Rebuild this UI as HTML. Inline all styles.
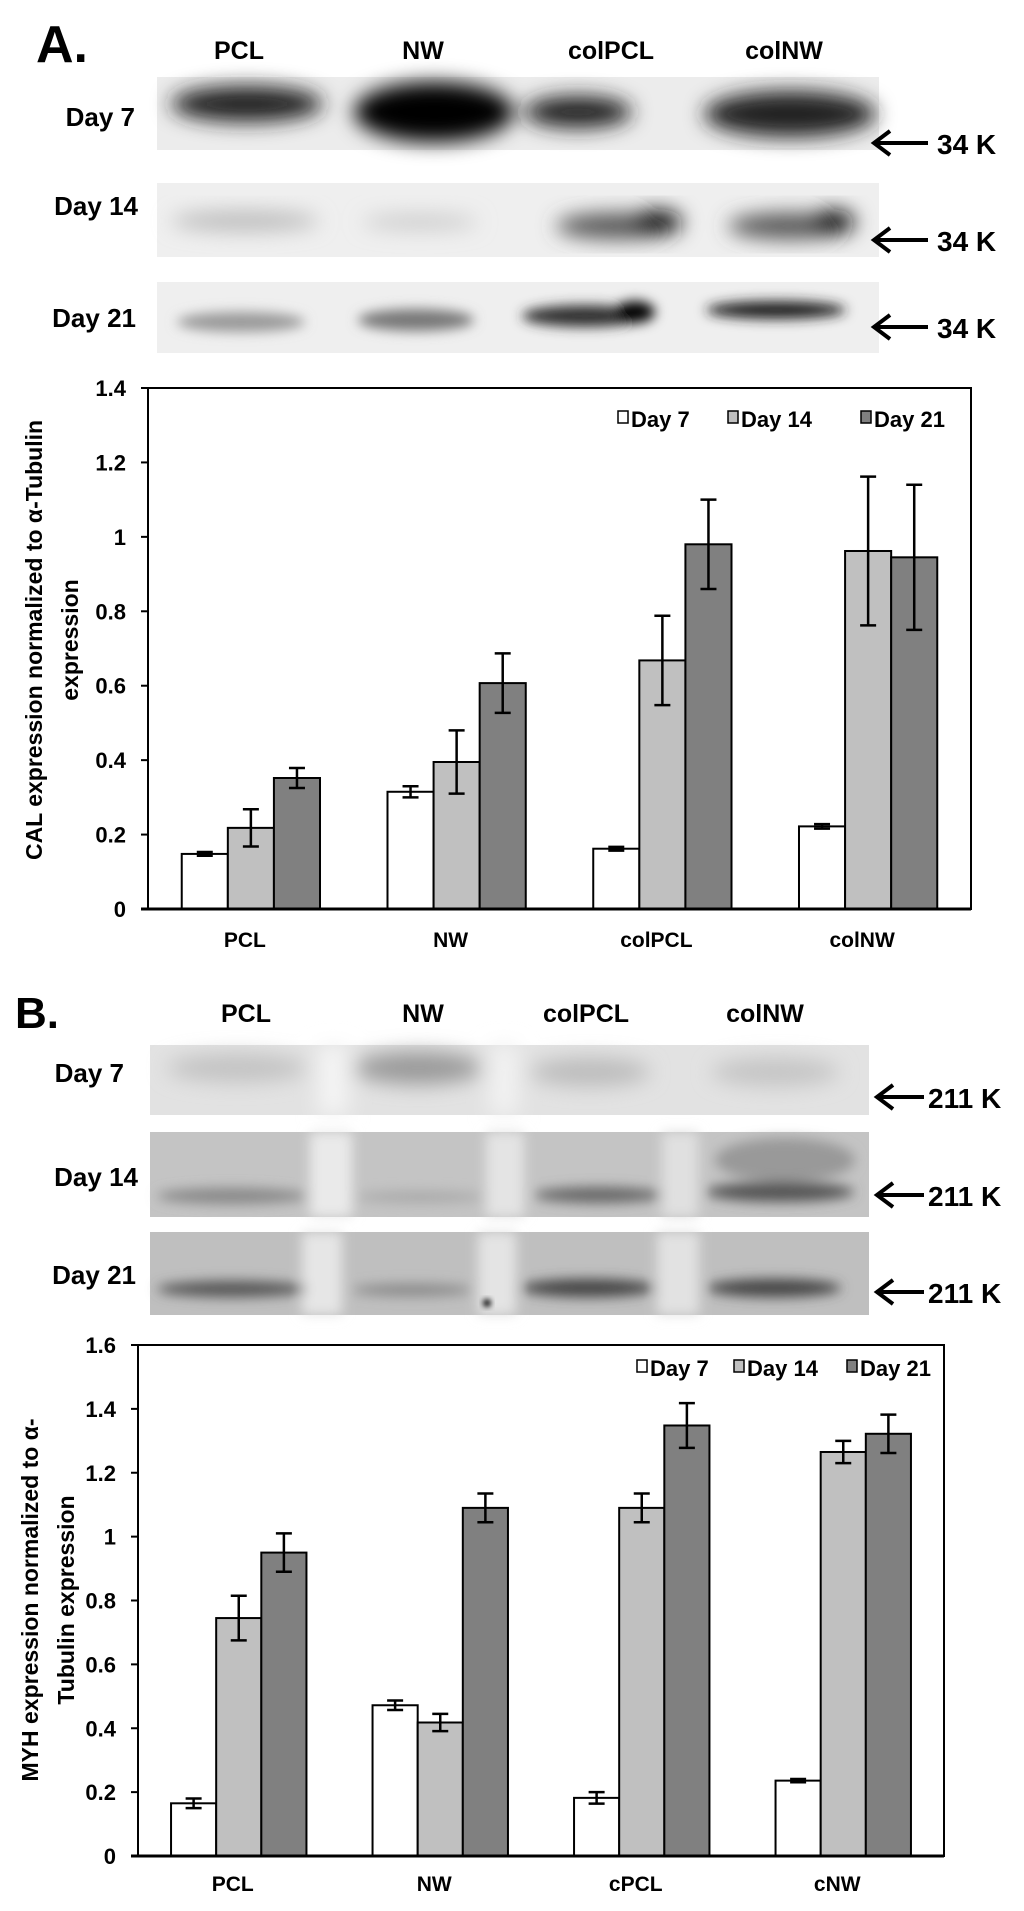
<!DOCTYPE html>
<html><head><meta charset="utf-8">
<style>
html,body{margin:0;padding:0;background:#fff;}
body{width:1024px;height:1911px;position:relative;overflow:hidden;font-family:"Liberation Sans",Arial,sans-serif;font-weight:bold;}
svg{position:absolute;left:0;top:0;}
</style></head>
<body>
<svg id="fig" width="1024" height="1911" viewBox="0 0 1024 1911">
<defs>
<filter id="b6" x="-50%" y="-50%" width="200%" height="200%"><feGaussianBlur stdDeviation="6"/></filter>
<filter id="b10" x="-50%" y="-50%" width="200%" height="200%"><feGaussianBlur stdDeviation="10"/></filter>
<filter id="b3" x="-50%" y="-50%" width="200%" height="200%"><feGaussianBlur stdDeviation="3"/></filter>
</defs>
<g font-family="Liberation Sans, Arial, sans-serif" font-weight="bold" fill="#000">
<!-- Panel A blots -->
<text x="36" y="62" font-size="52">A.</text>
<g font-size="25" text-anchor="middle">
<text x="239" y="59">PCL</text><text x="423" y="59">NW</text><text x="611" y="59">colPCL</text><text x="784" y="59">colNW</text>
</g>
<g font-size="26" text-anchor="end">
<text x="135" y="126">Day 7</text><text x="138" y="215">Day 14</text><text x="136" y="327">Day 21</text>
</g>
<g>
<rect x="157" y="77" width="722" height="73" fill="#ececec"/>
<g filter="url(#b10)" fill="#222">
<ellipse cx="247" cy="104" rx="76" ry="18"/>
<ellipse cx="434" cy="112" rx="80" ry="30" fill="#000"/>
<ellipse cx="578" cy="112" rx="54" ry="16"/>
<ellipse cx="790" cy="114" rx="86" ry="23"/>
</g></g>
<g>
<rect x="157" y="183" width="722" height="74" fill="#efefef"/>
<g filter="url(#b10)">
<ellipse cx="245" cy="221" rx="74" ry="10" fill="#bbb"/>
<ellipse cx="420" cy="222" rx="58" ry="8" fill="#ccc"/>
<ellipse cx="618" cy="226" rx="62" ry="13" fill="#555"/>
<ellipse cx="657" cy="222" rx="25" ry="12" fill="#111"/>
<ellipse cx="790" cy="226" rx="62" ry="13" fill="#555"/>
<ellipse cx="833" cy="222" rx="22" ry="12" fill="#111"/>
</g></g>
<g>
<rect x="157" y="282" width="722" height="71" fill="#efefef"/>
<g filter="url(#b6)">
<ellipse cx="241" cy="322" rx="64" ry="10" fill="#999"/>
<ellipse cx="416" cy="320" rx="58" ry="11" fill="#777"/>
<ellipse cx="585" cy="316" rx="63" ry="11" fill="#333"/>
<ellipse cx="635" cy="312" rx="20" ry="11" fill="#000"/>
<ellipse cx="776" cy="310" rx="70" ry="9" fill="#222"/>
</g></g>
<g>
<g stroke="#000" stroke-width="4" fill="none">
<path d="M874 143H928M890 131L874 143L890 155"/>
<path d="M874 240H928M890 228L874 240L890 252"/>
<path d="M874 327H928M890 315L874 327L890 339"/>
</g>
<g font-size="28"><text x="937" y="154">34 K</text><text x="937" y="251">34 K</text><text x="937" y="338">34 K</text></g>
</g>

<!-- Panel B blots -->
<text x="15" y="1028" font-size="44">B.</text>
<g font-size="25" text-anchor="middle">
<text x="246" y="1022">PCL</text><text x="423" y="1022">NW</text><text x="586" y="1022">colPCL</text><text x="765" y="1022">colNW</text>
</g>
<g font-size="26" text-anchor="end">
<text x="124" y="1082">Day 7</text><text x="138" y="1186">Day 14</text><text x="136" y="1284">Day 21</text>
</g>
<g>
<rect x="150" y="1045" width="719" height="70" fill="#e2e2e2"/>
<g filter="url(#b10)">
<ellipse cx="237" cy="1068" rx="70" ry="14" fill="#c2c2c2"/>
<ellipse cx="418" cy="1068" rx="64" ry="16" fill="#999"/>
<ellipse cx="590" cy="1072" rx="60" ry="14" fill="#bbb"/>
<ellipse cx="775" cy="1072" rx="64" ry="14" fill="#c4c4c4"/>
<rect x="318" y="1045" width="30" height="70" fill="#f4f4f4"/>
<rect x="490" y="1045" width="28" height="70" fill="#f2f2f2"/>
</g></g>
<g>
<rect x="150" y="1132" width="719" height="85" fill="#c4c4c4"/>
<g filter="url(#b6)">
<rect x="310" y="1132" width="42" height="85" fill="#eaeaea"/>
<rect x="486" y="1132" width="38" height="85" fill="#e4e4e4"/>
<rect x="662" y="1132" width="36" height="85" fill="#e0e0e0"/>
<ellipse cx="232" cy="1196" rx="75" ry="8" fill="#888"/>
<ellipse cx="420" cy="1197" rx="64" ry="6" fill="#aaa"/>
<ellipse cx="598" cy="1195" rx="64" ry="8" fill="#666"/>
<ellipse cx="780" cy="1192" rx="74" ry="10" fill="#555"/>
<ellipse cx="785" cy="1160" rx="70" ry="22" fill="#999"/>
</g></g>
<g>
<rect x="150" y="1232" width="719" height="83" fill="#bfbfbf"/>
<g filter="url(#b6)">
<rect x="302" y="1232" width="40" height="83" fill="#e6e6e6"/>
<rect x="478" y="1232" width="38" height="83" fill="#e4e4e4"/>
<rect x="657" y="1232" width="42" height="83" fill="#e2e2e2"/>
<ellipse cx="232" cy="1289" rx="75" ry="8" fill="#555"/>
<ellipse cx="412" cy="1290" rx="60" ry="6" fill="#888"/>
<ellipse cx="588" cy="1288" rx="67" ry="9" fill="#444"/>
<ellipse cx="774" cy="1288" rx="67" ry="9" fill="#444"/>
</g>
<circle cx="487" cy="1303" r="4" fill="#000" filter="url(#b3)"/>
</g>
<g>
<g stroke="#000" stroke-width="4" fill="none">
<path d="M877 1097H924M893 1085L877 1097L893 1109"/>
<path d="M877 1195H924M893 1183L877 1195L893 1207"/>
<path d="M877 1292H924M893 1280L877 1292L893 1304"/>
</g>
<g font-size="28"><text x="928" y="1108">211 K</text><text x="928" y="1206">211 K</text><text x="928" y="1303">211 K</text></g>
</g>
</g>
<g id="chartA"></g>
<g id="chartB"></g>
</svg>
<script>
// ----- Chart A data (CAL) -----
const catsA = ["PCL", "NW", "colPCL", "colNW"];
const day7A = [0.148, 0.315, 0.162, 0.222];
const day7ErrA = [0.005, 0.015, 0.005, 0.006];
const day14A = [0.218, 0.395, 0.668, 0.962];
const day14ErrA = [0.05, 0.085, 0.12, 0.2];
const day21A = [0.352, 0.607, 0.98, 0.945];
const day21ErrA = [0.027, 0.08, 0.12, 0.195];
const ticksA = [0, 0.2, 0.4, 0.6, 0.8, 1, 1.2, 1.4];
const tickLabelsA = ["0", "0.2", "0.4", "0.6", "0.8", "1", "1.2", "1.4"];
// ----- Chart B data (MYH) -----
const catsB = ["PCL", "NW", "cPCL", "cNW"];
const day7B = [0.165, 0.472, 0.182, 0.236];
const day7ErrB = [0.015, 0.015, 0.018, 0.005];
const day14B = [0.745, 0.418, 1.09, 1.265];
const day14ErrB = [0.07, 0.027, 0.045, 0.035];
const day21B = [0.95, 1.09, 1.348, 1.322];
const day21ErrB = [0.06, 0.045, 0.07, 0.06];
const ticksB = [0, 0.2, 0.4, 0.6, 0.8, 1, 1.2, 1.4, 1.6];
const tickLabelsB = ["0", "0.2", "0.4", "0.6", "0.8", "1", "1.2", "1.4", "1.6"];
const seriesNames = ["Day 7", "Day 14", "Day 21"];
const seriesColors = ["#ffffff", "#c0c0c0", "#808080"];

const NS = "http://www.w3.org/2000/svg";
const FF = "Liberation Sans, Arial, sans-serif";
function mk(parent, tag, attrs) {
  const e = document.createElementNS(NS, tag);
  for (const k in attrs) e.setAttribute(k, attrs[k]);
  parent.appendChild(e);
  return e;
}
function drawChart(g, cfg) {
  const yScale = v => cfg.bottom - (v / cfg.max) * (cfg.bottom - cfg.top);
  const band = (cfg.right - cfg.left) / cfg.cats.length;
  const bw = band * 0.224;
  const xCenter = i => cfg.left + band * (i + 0.5);
  const frame = mk(g, "rect", {x: cfg.left, y: cfg.top, width: cfg.right - cfg.left, height: cfg.bottom - cfg.top, fill: "none", stroke: "#000", "stroke-width": 2});
  
  
  cfg.ticks.forEach((t, i) => {
    const tk = mk(g, "line", {x1: cfg.left - 7, x2: cfg.left, y1: yScale(t), y2: yScale(t), stroke: "#000", "stroke-width": 2});
    
    
    const lab = mk(g, "text", {x: cfg.left - 22, y: yScale(t) + 8, "text-anchor": "end", "font-size": 22, "font-family": FF, "font-weight": "bold"});
    lab.textContent = cfg.tickLabels[i];
    
    
  });
  const series = [cfg.s7, cfg.s14, cfg.s21];
  const errs = [cfg.e7, cfg.e14, cfg.e21];
  series.forEach((vals, s) => {
    vals.forEach((v, i) => {
      const x = xCenter(i) + (s - 1.5) * bw;
      const r = mk(g, "rect", {x: x, y: yScale(v), width: bw, height: cfg.bottom - yScale(v), fill: seriesColors[s], stroke: "#000", "stroke-width": 2});
      
      
      const cx = x + bw / 2, e = errs[s][i];
      const eb = mk(g, "path", {d: `M${cx} ${yScale(v + e)}V${yScale(v - e)}M${cx - 8} ${yScale(v + e)}H${cx + 8}M${cx - 8} ${yScale(v - e)}H${cx + 8}`, stroke: "#000", "stroke-width": 2.5, fill: "none"});
      
      
    });
  });
  const axis = mk(g, "line", {x1: cfg.left - 7, x2: cfg.right, y1: cfg.bottom, y2: cfg.bottom, stroke: "#000", "stroke-width": 3});
  
  
  cfg.cats.forEach((c, i) => {
    const t = mk(g, "text", {x: xCenter(i) - 6, y: cfg.xLabelY, "text-anchor": "middle", "font-size": 21, "font-family": FF, "font-weight": "bold"});
    t.textContent = c;
    
    
  });
  seriesNames.forEach((n, s) => {
    const lx = cfg.legendX[s];
    const sq = mk(g, "rect", {x: lx, y: cfg.legendY - 16, width: 10, height: 12, fill: seriesColors[s], stroke: "#000", "stroke-width": 1.5});
    
    
    const t = mk(g, "text", {x: lx + 13, y: cfg.legendY, "font-size": 22, "font-family": FF, "font-weight": "bold"});
    t.textContent = n;
    
    
  });
  const cy = cfg.titleY;
  cfg.titleLines.forEach((ln, k) => {
    const x = cfg.titleX[k];
    const t = mk(g, "text", {x: x, y: cy, transform: `rotate(-90 ${x} ${cy})`, "text-anchor": "middle", "font-size": 23, "font-family": FF, "font-weight": "bold"});
    t.textContent = ln;
    
    
  });
}
drawChart(document.getElementById("chartA"), {
  cats: catsA, s7: day7A, s14: day14A, s21: day21A, e7: day7ErrA, e14: day14ErrA, e21: day21ErrA,
  ticks: ticksA, tickLabels: tickLabelsA, max: 1.4,
  left: 148, right: 971, top: 388, bottom: 909, xLabelY: 947,
  legendX: [618, 728, 861], legendY: 427,
  titleLines: ["CAL expression normalized to α-Tubulin", "expression"], titleX: [42, 78], titleY: 640
});
drawChart(document.getElementById("chartB"), {
  cats: catsB, s7: day7B, s14: day14B, s21: day21B, e7: day7ErrB, e14: day14ErrB, e21: day21ErrB,
  ticks: ticksB, tickLabels: tickLabelsB, max: 1.6,
  left: 138, right: 944, top: 1345, bottom: 1856, xLabelY: 1891,
  legendX: [637, 734, 847], legendY: 1376,
  titleLines: ["MYH expression normalized to α-", "Tubulin expression"], titleX: [38, 74], titleY: 1600
});
</script>
</body></html>
